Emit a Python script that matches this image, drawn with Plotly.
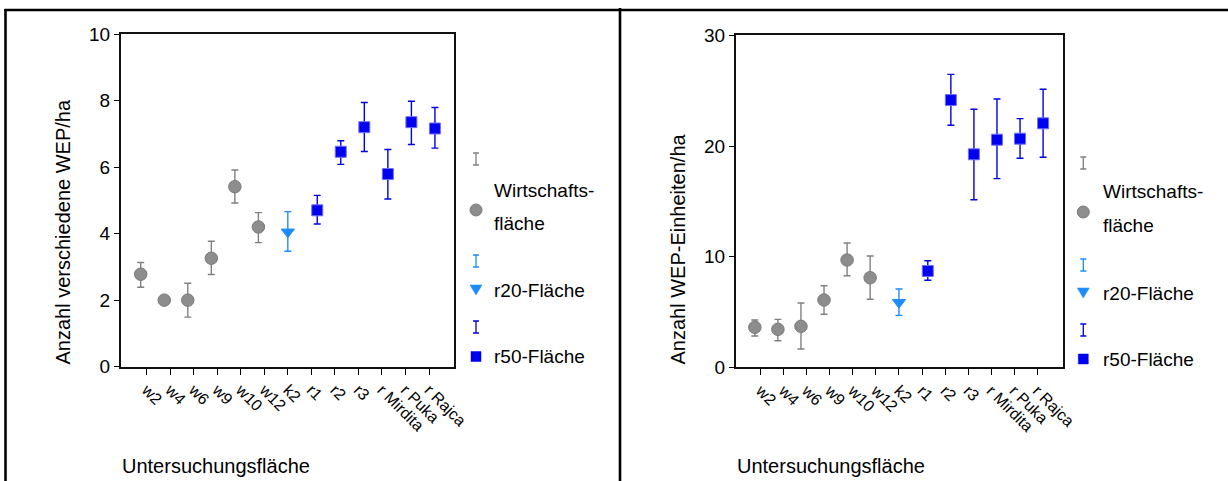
import plotly.graph_objects as go

# Study plots (x categories) and the plot type each belongs to
sites = ["w2", "w4", "w6", "w9", "w10", "w12", "k2",
         "r1", "r2", "r3", "r Mirdita", "r Puka", "r Rajca"]
site_type = ["W", "W", "W", "W", "W", "W", "r20",
             "r50", "r50", "r50", "r50", "r50", "r50"]

# Number of different WEP per ha: mean with lower / upper error limits
wep_mean = [2.78, 2.00, 2.00, 3.26, 5.41, 4.20, 4.05, 4.70, 6.46, 7.20, 5.79, 7.35, 7.16]
wep_upper = [3.13, 2.00, 2.51, 3.77, 5.91, 4.63, 4.66, 5.15, 6.79, 7.94, 6.53, 7.98, 7.79]
wep_lower = [2.39, 2.00, 1.49, 2.77, 4.92, 3.73, 3.47, 4.29, 6.08, 6.47, 5.04, 6.68, 6.57]

# Number of WEP units per ha: mean with lower / upper error limits
unit_mean = [3.62, 3.44, 3.71, 6.09, 9.70, 8.10, 5.87, 8.71, 24.15, 19.25, 20.57, 20.66, 22.05]
unit_upper = [4.28, 4.34, 5.82, 7.38, 11.24, 10.06, 7.08, 9.64, 26.47, 23.32, 24.25, 22.47, 25.12]
unit_lower = [2.84, 2.41, 1.66, 4.80, 8.28, 6.15, 4.70, 7.87, 21.87, 15.15, 17.05, 18.89, 18.98]

# Legend wording
legend_lines = {"W": ["Wirtschafts-", "fläche"], "r20": ["r20-Fläche"], "r50": ["r50-Fläche"]}

W, H = 1228, 481
FONT = "Liberation Sans, Arial, sans-serif"

# Marker look per plot type
styles = {
    "W": dict(symbol="circle", size=12.5, color="#8d8d8d", line="#7a7a7a", err="#808080"),
    "r20": dict(symbol="triangle-down", size=11.5, color="#1e8cff", line="#1e8cff", err="#1e8cff"),
    "r50": dict(symbol="square", size=11, color="#0000f0", line="#6f6fff", err="#0000e6"),
}


def px(x):
    return x / W


def py(y):
    return 1 - y / H


fig = go.Figure()


def add_panel(mean, upper, lower, xa, ya):
    for key in ["W", "r20", "r50"]:
        idx = [i for i, t in enumerate(site_type) if t == key]
        st = styles[key]
        m = [mean[i] for i in idx]
        fig.add_trace(go.Scatter(
            x=[sites[i] for i in idx],
            y=m,
            mode="markers",
            orientation="v",
            offsetgroup=key,
            alignmentgroup=xa,
            showlegend=False,
            xaxis=xa, yaxis=ya,
            marker=dict(symbol=st["symbol"], size=st["size"], color=st["color"],
                        line=dict(color=st["line"], width=1)),
            error_y=dict(type="data", symmetric=False,
                         array=[upper[i] - mean[i] for i in idx],
                         arrayminus=[mean[i] - lower[i] for i in idx],
                         color=st["err"], thickness=1.4, width=3.5),
        ))


add_panel(wep_mean, wep_upper, wep_lower, "x", "y")
add_panel(unit_mean, unit_upper, unit_lower, "x2", "y2")

xcommon = dict(type="category", categoryorder="array", categoryarray=sites,
               ticks="outside", ticklen=6, tickwidth=1.2, tickcolor="black",
               tickangle=45, tickfont=dict(size=16, family=FONT, color="black"),
               showline=True, linecolor="#111", linewidth=1.6, mirror=True,
               showgrid=False, zeroline=False)
ycommon = dict(ticks="outside", ticklen=5, tickwidth=1.2, tickcolor="black",
               tickfont=dict(size=19, family=FONT, color="black"),
               showline=True, linecolor="#111", linewidth=1.6, mirror=True,
               showgrid=False, zeroline=False)

fig.update_layout(
    width=W, height=H,
    margin=dict(l=0, r=0, t=0, b=0),
    paper_bgcolor="white", plot_bgcolor="white",
    template="none",
    scattermode="group", scattergap=0.25,
    font=dict(family=FONT, color="black"),
    xaxis=dict(xcommon, domain=[px(120.7), px(454)], range=[-1.1, 13.06], anchor="y"),
    yaxis=dict(ycommon, domain=[py(366.7), py(34)], range=[0, 10], dtick=2, anchor="x"),
    xaxis2=dict(xcommon, domain=[px(735.7), px(1062.7)], range=[-1.08, 13.1], anchor="y2"),
    yaxis2=dict(ycommon, domain=[py(367.4), py(35.3)], range=[0, 30], dtick=10, anchor="x2"),
)

annotations = []
shapes = []

# Axis titles
for xc, txt in [(62, "Anzahl verschiedene WEP/ha"), (677, "Anzahl WEP-Einheiten/ha")]:
    annotations.append(dict(text=txt, textangle=-90, xref="paper", yref="paper",
                            x=px(xc), y=py(367), xanchor="center", yanchor="bottom",
                            showarrow=False, font=dict(size=20, family=FONT)))
for xl in [120, 735]:
    annotations.append(dict(text="Untersuchungsfläche", xref="paper", yref="paper",
                            x=px(xl), y=py(466), xanchor="left", yanchor="middle",
                            showarrow=False, font=dict(size=20, family=FONT)))

# Panel frame lines
frame = dict(type="line", xref="paper", yref="paper", line=dict(color="black", width=2.6))
shapes.append(dict(frame, x0=px(4.5), x1=1, y0=py(10), y1=py(10)))
shapes.append(dict(frame, x0=px(5.5), x1=px(5.5), y0=py(9), y1=0))
shapes.append(dict(frame, x0=px(620), x1=px(620), y0=py(8), y1=0))


def path(points, close=False):
    s = " ".join(("M" if i == 0 else "L") + f" {px(a):.5f} {py(b):.5f}" for i, (a, b) in enumerate(points))
    return s + (" Z" if close else "")


def err_icon(x, yc, color):
    top, bot, c = yc - 6, yc + 6, 3
    d = (path([(x - c, top), (x + c, top)]) + " " + path([(x, top), (x, bot)]) + " "
         + path([(x - c, bot), (x + c, bot)]))
    shapes.append(dict(type="path", xref="paper", yref="paper", path=d,
                       line=dict(color=color, width=1.3)))


# Legend blocks: (glyph x, text x, icon/glyph/text rows)
legends = [
    dict(gx=476, tx=491.7, rows={"W": (159, 210, [190, 223]), "r20": (261, 290, [290]),
                                  "r50": (327, 356.5, [356.5])}),
    dict(gx=1083.3, tx=1100.7, rows={"W": (163, 212, [191.5, 225]), "r20": (265, 293, [293]),
                                      "r50": (330, 359, [359])}),
]
for lg in legends:
    gx = lg["gx"]
    for key, (ey, my, ty) in lg["rows"].items():
        st = styles[key]
        err_icon(gx, ey, st["err"])
        if key == "W":
            shapes.append(dict(type="circle", xref="paper", yref="paper",
                               x0=px(gx - 6), x1=px(gx + 6), y0=py(my + 6), y1=py(my - 6),
                               fillcolor=st["color"], line=dict(color=st["line"], width=1)))
        elif key == "r20":
            shapes.append(dict(type="path", xref="paper", yref="paper",
                               path=path([(gx - 6, my - 5), (gx + 6, my - 5), (gx, my + 5)], True),
                               fillcolor=st["color"], line=dict(color=st["color"], width=0.5)))
        else:
            shapes.append(dict(type="rect", xref="paper", yref="paper",
                               x0=px(gx - 5), x1=px(gx + 5), y0=py(my + 5), y1=py(my - 5),
                               fillcolor=st["color"], line=dict(color=st["color"], width=0.5)))
        for line_txt, yy in zip(legend_lines[key], ty):
            annotations.append(dict(text=line_txt, xref="paper", yref="paper",
                                    x=px(lg["tx"]), y=py(yy), xanchor="left", yanchor="middle",
                                    showarrow=False, font=dict(size=19, family=FONT)))

fig.update_layout(annotations=annotations, shapes=shapes)
fig.write_html("out.html")
